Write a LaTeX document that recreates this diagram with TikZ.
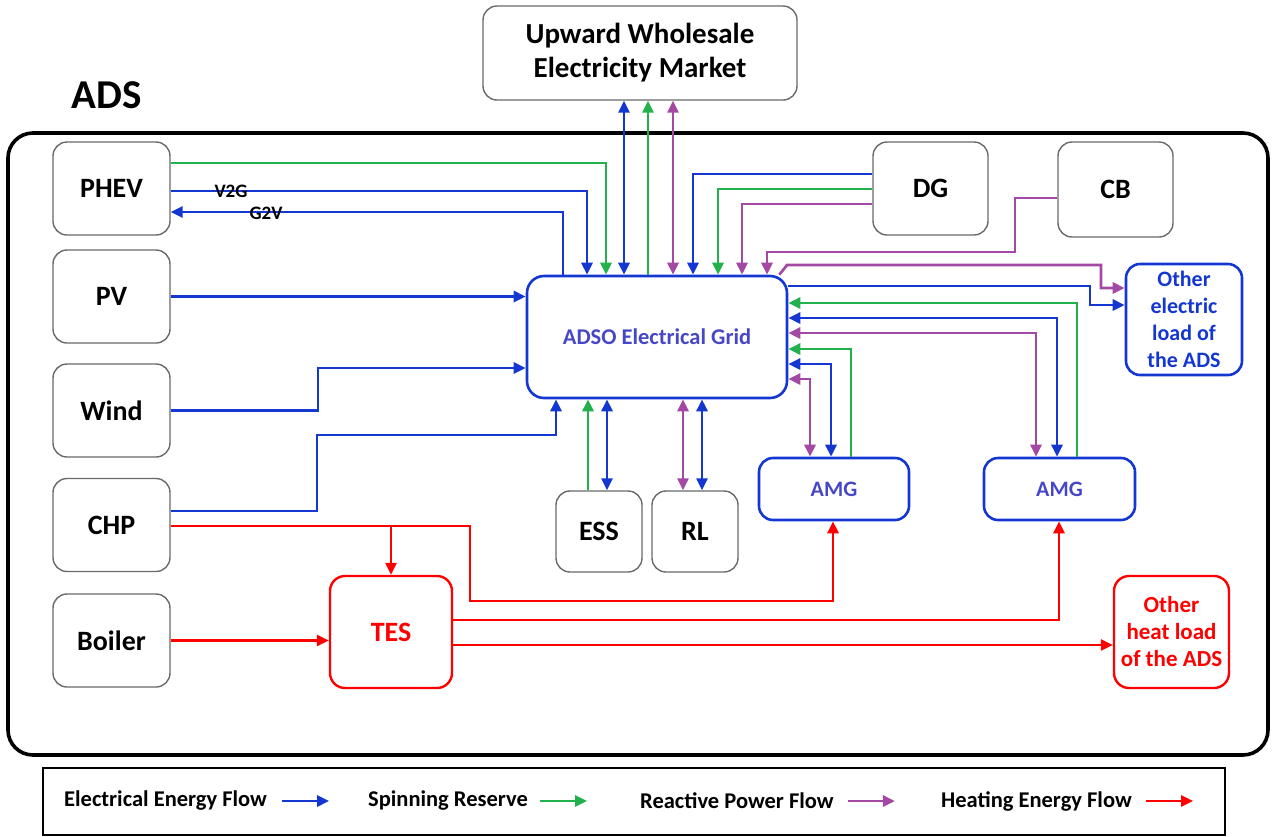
\documentclass[tikz,border=0pt]{standalone}
\usepackage{fontspec}
\setmainfont{Carlito}
\usetikzlibrary{arrows.meta}
\definecolor{eblue}{RGB}{20,55,210}
\definecolor{sgreen}{RGB}{34,177,76}
\definecolor{rpurple}{RGB}{163,73,164}
\definecolor{hred}{RGB}{255,0,0}
\definecolor{gridtxt}{RGB}{70,70,200}
\definecolor{boxgray}{RGB}{105,105,105}

\begin{document}
\begin{tikzpicture}[x=1pt,y=-1pt,
    >={Triangle[length=12pt,width=11pt]},
    unit/.style={draw=boxgray,line width=1.4pt,rounded corners=14pt,minimum width=117pt,minimum height=93pt,inner sep=0pt,font=\fontsize{28}{33}\selectfont\bfseries},
    bunit/.style={draw=eblue,line width=2.6pt,rounded corners=14pt,inner sep=0pt,text=gridtxt,font=\fontsize{22}{27}\selectfont\bfseries},
    hunit/.style={draw=hred,line width=2.4pt,rounded corners=15pt,inner sep=0pt,text=hred,align=center},
    eline/.style={eblue,line width=2.7pt},
    sline/.style={sgreen,line width=2.7pt},
    rline/.style={rpurple,line width=2.7pt},
    hline/.style={hred,line width=2.7pt},
    legtxt/.style={anchor=west,inner sep=0pt,font=\fontsize{22.5}{26}\selectfont\bfseries}]
      \useasboundingbox (0,0) rectangle (1272,836);
      \draw[line width=3.6pt,rounded corners=25pt] (8,133) rectangle (1268,755);
      \node[font=\fontsize{41}{46}\selectfont\bfseries] (ads) at (107,95) {ADS};
      \node[unit,minimum width=314pt,minimum height=94pt,align=center,font=\fontsize{29}{34}\selectfont\bfseries] (up) at (640,53) {Upward Wholesale\\Electricity Market};
      \node[unit] (phev) at (111.5,188.5) {PHEV};
      \node[unit] (pv) at (111.5,296.5) {PV};
      \node[unit] (wind) at (111.5,410.5) {Wind};
      \node[unit] (chp) at (111.5,525) {CHP};
      \node[unit] (boiler) at (111.5,640.5) {Boiler};
      \node[unit,minimum width=115pt] (dg) at (930.5,188.5) {DG};
      \node[unit,minimum width=115pt,minimum height=95pt] (cb) at (1115.5,189.5) {CB};
      \node[unit,minimum width=86pt,minimum height=81pt] (ess) at (599,531.5) {ESS};
      \node[unit,minimum width=86pt,minimum height=81pt] (rl) at (695,531.5) {RL};
      \node[bunit,rounded corners=17pt,minimum width=260pt,minimum height=122pt,font=\fontsize{22.5}{27}\selectfont\bfseries] (grid) at (657,337) {ADSO Electrical Grid};
      \node[bunit,minimum width=150pt,minimum height=62pt] (amg1) at (834,489) {AMG};
      \node[bunit,minimum width=151pt,minimum height=62pt] (amg2) at (1059.5,489) {AMG};
      \node[bunit,text=eblue,minimum width=116pt,minimum height=111pt,align=center] (oel) at (1184,319.5) {Other\\electric\\load of\\the ADS};
      \node[hunit,minimum width=122pt,minimum height=112pt,font=\fontsize{28}{33}\selectfont\bfseries] (tes) at (391,632) {TES};
      \node[hunit,minimum width=115pt,minimum height=112pt,font=\fontsize{23}{27}\selectfont\bfseries] (ohl) at (1171.5,632) {Other\\heat load\\of the ADS};

      \draw[eline,<->] (624,0 |- grid.north) -- (624,0 |- up.south);
      \draw[sline,->] (648,0 |- grid.north) -- (648,0 |- up.south);
      \draw[rline,<->] (673,0 |- grid.north) -- (673,0 |- up.south);

      \draw[sline,->] (phev.east |- 0,163) -| (606,0 |- grid.north);
      \draw[eline,->] (phev.east |- 0,191) -| (587,0 |- grid.north);
      \draw[eline,->] (563,0 |- grid.north) |- (phev.east |- 0,212);
      \node[font=\fontsize{19}{21}\selectfont\bfseries] (v2g) at (231,191) {V2G};
      \node[font=\fontsize{19}{21}\selectfont\bfseries] (g2v) at (266,213) {G2V};

      \draw[eline,->] (pv.east) -- (pv.east -| grid.west);
      \draw[eline,->] (wind.east) -| (318,368) -- (grid.west |- 0,368);
      \draw[eline,->] (chp.east |- 0,511) -| (317,435) -| (556,0 |- grid.south);

      \draw[sline,->] (588,0 |- ess.north) -- (588,0 |- grid.south);
      \draw[eline,<->] (607,0 |- ess.north) -- (607,0 |- grid.south);
      \draw[rline,<->] (683,0 |- rl.north) -- (683,0 |- grid.south);
      \draw[eline,<->] (702,0 |- rl.north) -- (702,0 |- grid.south);

      \draw[eline,->] (dg.west |- 0,174) -| (693,0 |- grid.north);
      \draw[sline,->] (dg.west |- 0,189) -| (718,0 |- grid.north);
      \draw[rline,->] (dg.west |- 0,204) -| (742,0 |- grid.north);
      \draw[rline,->] (cb.west |- 0,198) -| (1015,252) -| (767,0 |- grid.north);

      \draw[rline,->] ([xshift=-9pt]grid.north east) -- (787,265) -| (1101,288) -- (oel.west |- 0,288);
      \draw[eline,->] (grid.east |- 0,286) -| (1090,305) -- (oel.west |- 0,305);

      \draw[sline,->] (1077,0 |- amg2.north) |- (grid.east |- 0,303);
      \draw[eline,<->] (1057,0 |- amg2.north) |- (grid.east |- 0,318);
      \draw[rline,<->] (1036,0 |- amg2.north) |- (grid.east |- 0,333);
      \draw[sline,->] (851,0 |- amg1.north) |- (grid.east |- 0,349);
      \draw[eline,<->] (831,0 |- amg1.north) |- (grid.east |- 0,364);
      \draw[rline,<->] (810,0 |- amg1.north) |- (grid.east |- 0,379);

      \coordinate (tap) at (391,526);
      \draw[hline,->] (chp.east |- tap) -| (470,601) -| (833,0 |- amg1.south);
      \draw[hline,->] (tap) -- (tes.north);
      \draw[hline,->] (tes.east |- 0,620) -| (1059,0 |- amg2.south);
      \draw[hline,->] (tes.east |- 0,645) -- (ohl.west |- 0,645);
      \draw[hline,->] (boiler.east) -- (boiler.east -| tes.west);

      \draw[line width=2.6pt] (43,768) rectangle (1225,835);
      \node[legtxt] (l1) at (64,801) {Electrical Energy Flow};
      \draw[eline,->] ([xshift=15pt]l1.east) -- ++(47,0);
      \node[legtxt] (l2) at (368,801) {Spinning Reserve};
      \draw[sline,->] ([xshift=12pt]l2.east) -- ++(47,0);
      \node[legtxt] (l3) at (640,801) {Reactive Power Flow};
      \draw[rline,->] ([xshift=14pt]l3.east) -- ++(47,0);
      \node[legtxt] (l4) at (941,801) {Heating Energy Flow};
      \draw[hline,->] ([xshift=14pt]l4.east) -- ++(47,0);
    \end{tikzpicture}
\end{document}
